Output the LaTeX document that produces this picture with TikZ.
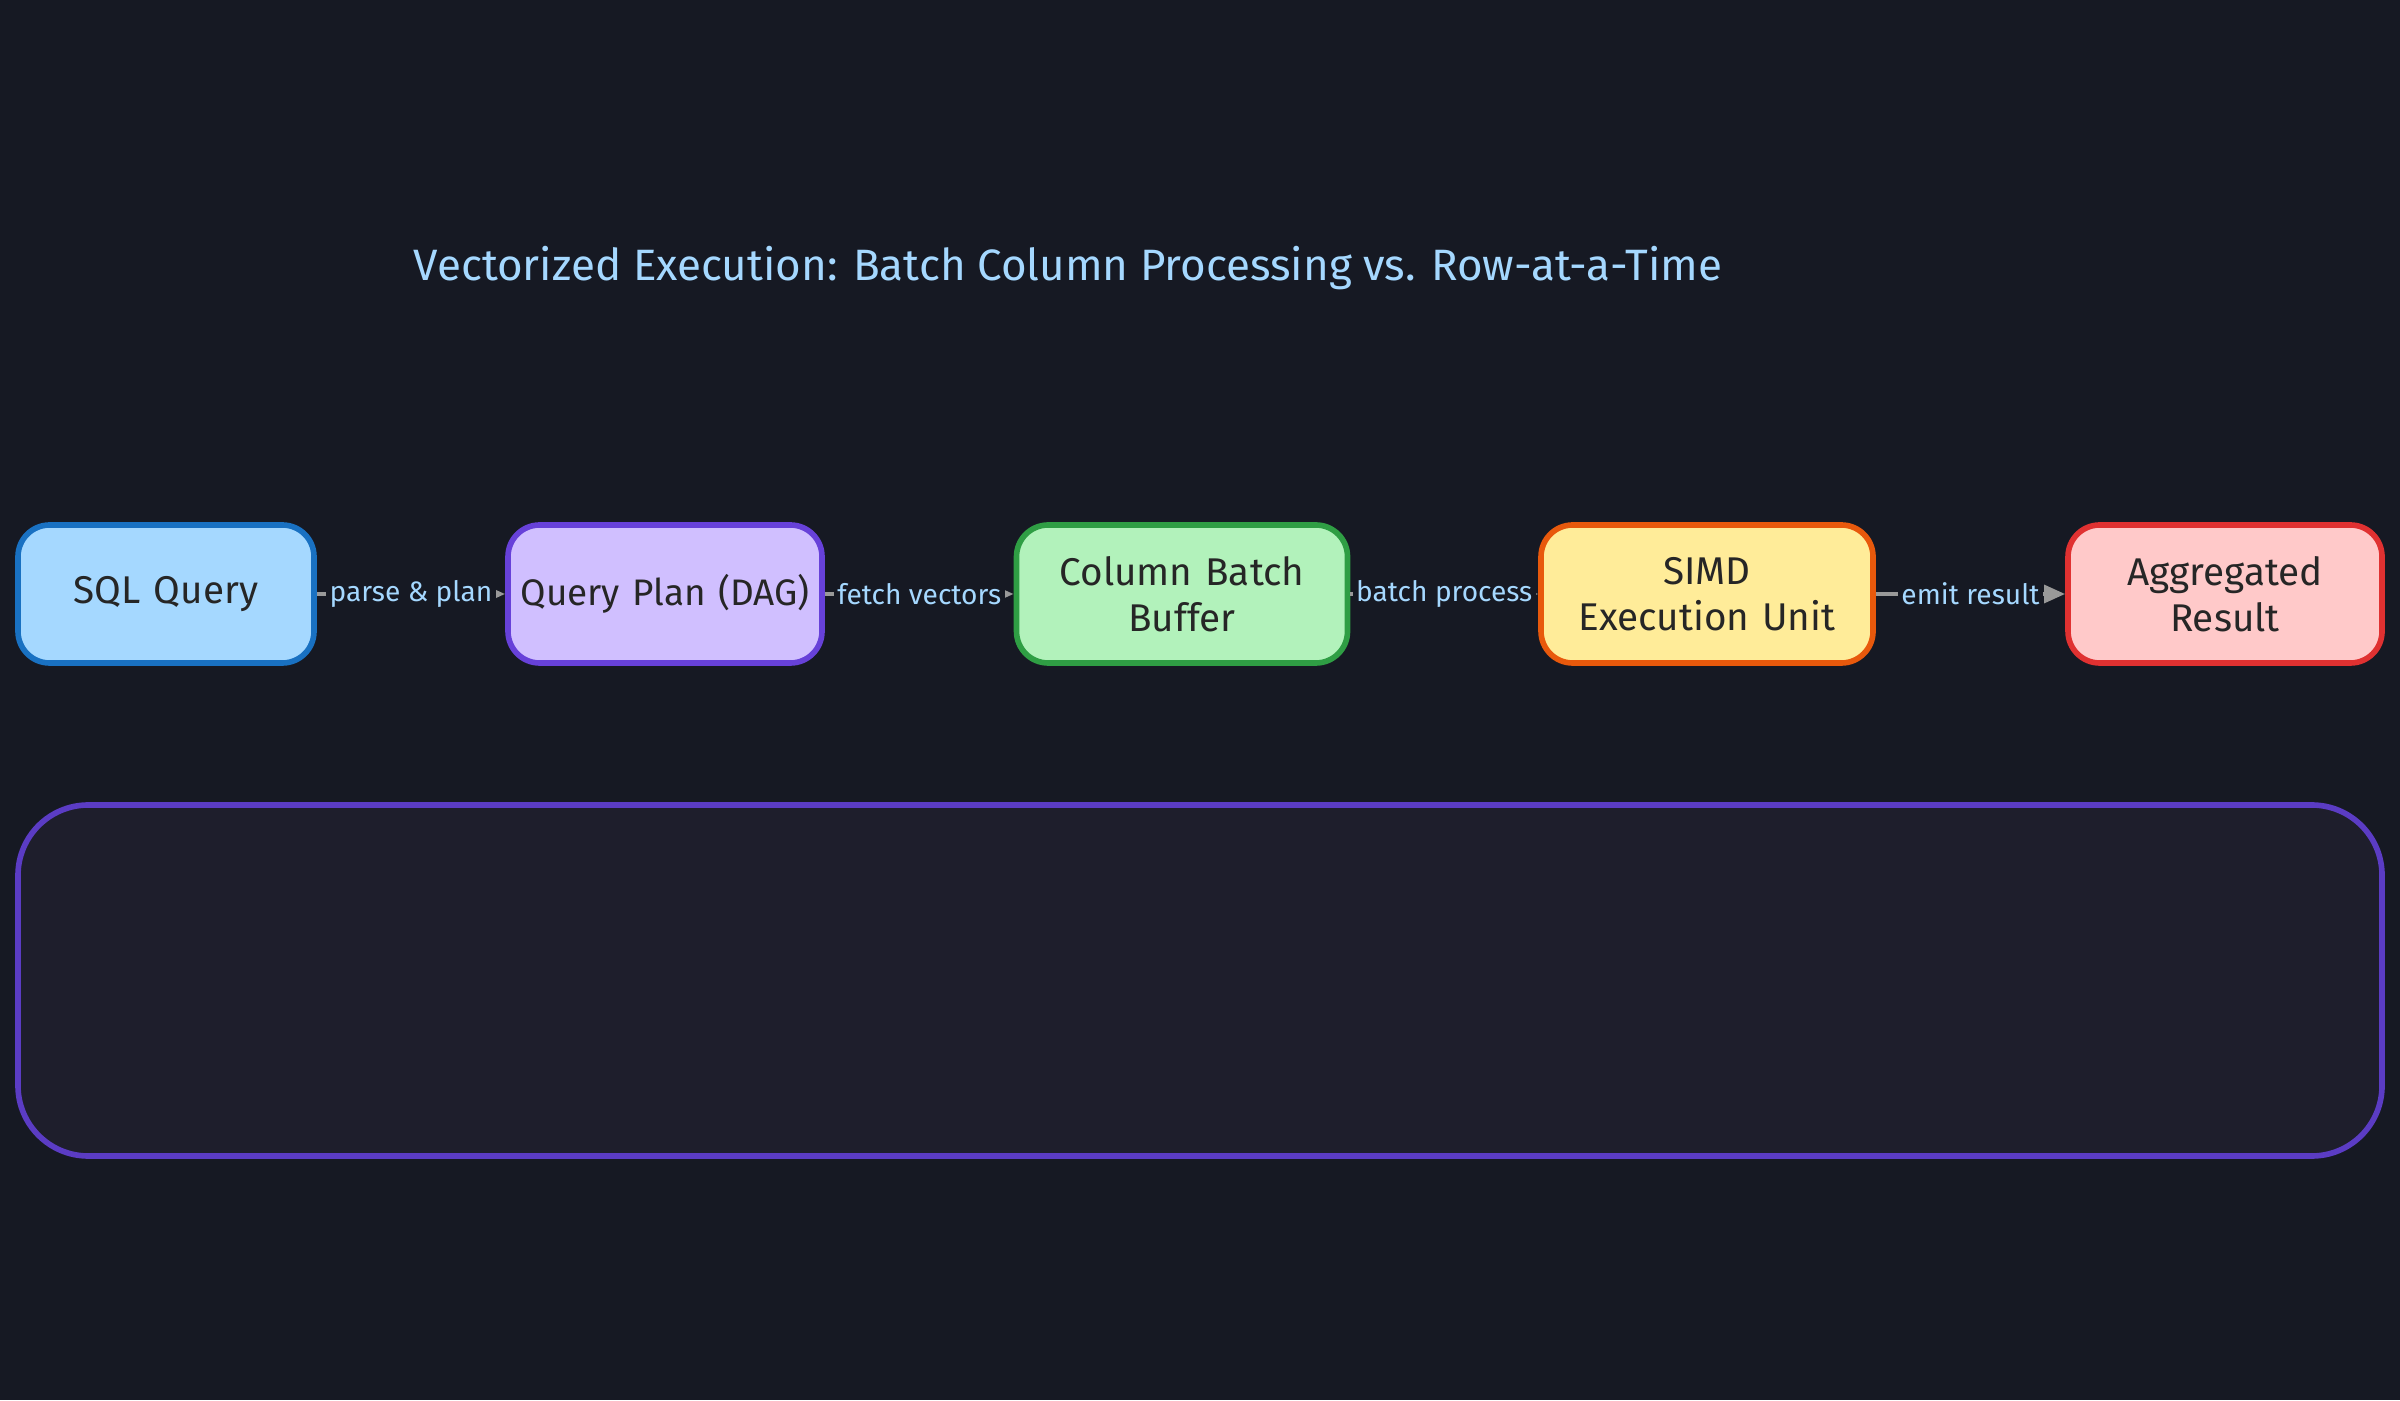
\documentclass[tikz,border=0pt]{standalone}
\usepackage{fontspec}
\setmainfont{Fira Sans}
\usetikzlibrary{positioning,arrows.meta}
\definecolor{bgc}{HTML}{161923}
\definecolor{panel}{HTML}{1E1E2C}
\definecolor{panelline}{HTML}{5B3CC4}
\definecolor{titlec}{HTML}{A5D8FF}
\definecolor{sqlline}{HTML}{1971C2}
\definecolor{planfill}{HTML}{D0BFFF}
\definecolor{planline}{HTML}{6741D9}
\definecolor{batchfill}{HTML}{B2F2BB}
\definecolor{batchline}{HTML}{2F9E44}
\definecolor{simdfill}{HTML}{FFEC99}
\definecolor{simdline}{HTML}{E8590C}
\definecolor{aggfill}{HTML}{FFC9C9}
\definecolor{aggline}{HTML}{E03131}
\tikzset{
 box/.style={draw,line width=1.6pt,rounded corners=9pt,minimum width=#1,text width=#1-2pt,minimum height=1.38cm,align=center,text=black!85,inner sep=1pt,font=\fontsize{11}{13}\selectfont},
 lbl/.style={fill=bgc,text=titlec,font=\fontsize{8}{10}\selectfont,inner sep=1pt},
 link/.style={-{Triangle[length=6pt,width=5pt]},gray!80,line width=1.2pt}
}
\begin{document}
\begin{tikzpicture}
 \fill[bgc] (0,0) rectangle (24,14);
 \useasboundingbox (0,0) rectangle (24,14);
 \node[text=titlec,font=\fontsize{12.5}{15}\selectfont] (title) at (10.68,11.32) {Vectorized Execution: Batch Column Processing vs. Row-at-a-Time};
 \draw[panelline,fill=panel,line width=1.6pt,rounded corners=20pt] (0.18,2.44) rectangle (23.82,5.95);
 \node[box=2.96cm,fill=titlec,draw=sqlline] (sql) at (1.66,8.06) {SQL Query};
 \node[box=3.14cm,fill=planfill,draw=planline,font=\fontsize{10.5}{13}\selectfont] (plan) at (6.65,8.06) {Query~Plan~(DAG)};
 \node[box=3.31cm,fill=batchfill,draw=batchline] (batch) at (11.82,8.06) {Column Batch\\Buffer};
 \node[box=3.32cm,fill=simdfill,draw=simdline] (simd) at (17.07,8.06) {SIMD\\Execution Unit};
 \node[box=3.14cm,fill=aggfill,draw=aggline] (agg) at (22.25,8.06) {Aggregated\\Result};
 \draw[link] (sql) -- node[lbl] {parse \& plan} (plan);
 \draw[link] (plan) -- node[lbl] {fetch vectors} (batch);
 \draw[link] (batch) -- node[lbl] {batch process} (simd);
 \draw[link] (simd) -- node[lbl] {emit result} (agg);
\end{tikzpicture}
\end{document}
